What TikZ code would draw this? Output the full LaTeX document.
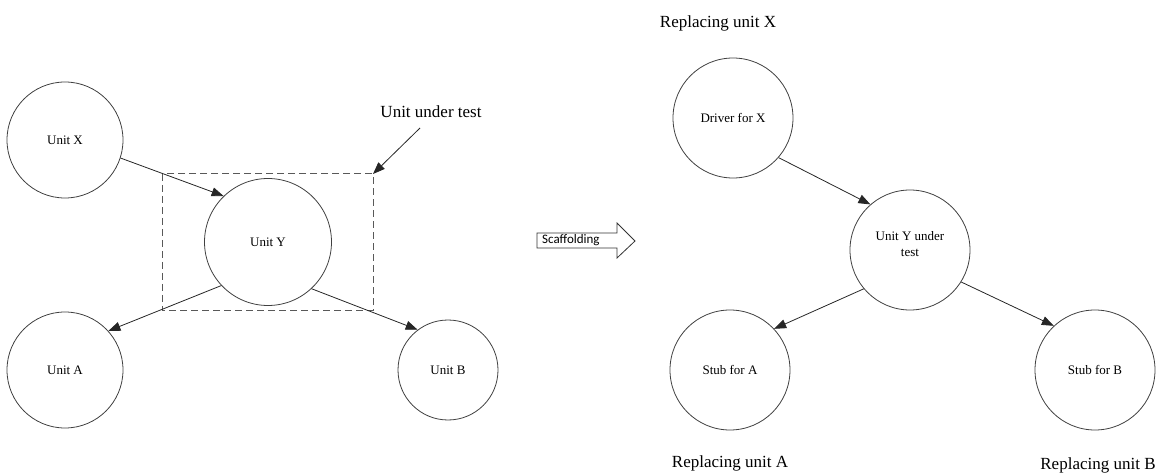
\documentclass[tikz,border=0pt]{standalone}
\usepackage{fontspec}
\setmainfont{Liberation Serif}
\newfontfamily\calib{Carlito}
\usetikzlibrary{arrows.meta}
\begin{document}
\begin{tikzpicture}[x=1pt,y=-1pt,
  unitc/.style={circle,draw=black!75,line width=0.8pt,inner sep=0pt,font=\fontsize{13}{16}\selectfont,align=center},
  conn/.style={draw=black!85,line width=0.8pt,-{Triangle[length=12pt,width=9pt]}},
  lbl/.style={font=\fontsize{17}{19}\selectfont,inner sep=0pt}]
\useasboundingbox (0,0) rectangle (1168,473);
% left
\node[unitc,minimum size=116pt] (X) at (65,140) {Unit X};
\node[unitc,minimum size=127pt] (Y) at (268,242) {Unit Y};
\node[unitc,minimum size=116pt] (A) at (65,370) {Unit A};
\node[unitc,minimum size=100pt] (B) at (448,370) {Unit B};
\draw[black!65,line width=1pt,dash pattern=on 7pt off 4pt] (162,174) rectangle (373,310);
\coordinate (cor) at (373,174);
\node[lbl] (uut) at (431,112) {Unit under test};
\draw[conn] (420,128) -- (cor);
\draw[conn] (X.-18) -- (Y.134);
\draw[conn] (Y.223) -- (A.42);
\draw[conn] (Y.-47) -- (B.127);
% scaffolding arrow
\draw[black!80,line width=0.8pt,fill=white] (537,233) -- (617,233) -- (617,223) -- (635,241) -- (617,258) -- (617,248) -- (537,248) -- cycle;
\node[font=\calib\fontsize{13}{15}\selectfont,inner sep=0pt,anchor=west] (sc) at (542,240.5) {Scaffolding};
% right
\node[unitc,minimum size=120pt] (D) at (733,118) {Driver for X};
\node[unitc,minimum size=120pt] (Y2) at (910,250) {};
\node[font=\fontsize{13}{16}\selectfont,align=center,inner sep=0pt] (Y2t) at (910,244) {Unit Y under\\test};
\node[unitc,minimum size=120pt] (SA) at (730,370) {Stub for A};
\node[unitc,minimum size=120pt] (SB) at (1095,370) {Stub for B};
\node[lbl] (rx) at (718,23) {Replacing unit X};
\node[lbl] (ra) at (730,463) {Replacing unit A};
\node[lbl] (rb) at (1098,465) {Replacing unit B};
\draw[conn] (D.-41) -- (Y2.131);
\draw[conn] (Y2.220) -- (SA.43);
\draw[conn] (Y2.-32) -- (SB.133);
\end{tikzpicture}
\end{document}
